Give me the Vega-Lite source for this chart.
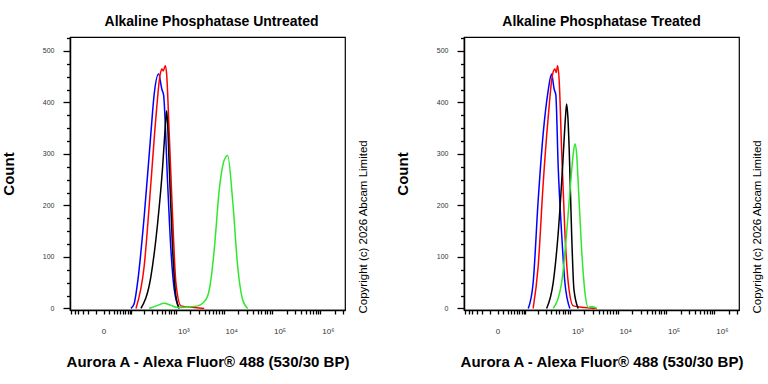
{
  "$schema": "https://vega.github.io/schema/vega-lite/v6.json",
  "padding": {"left": 0, "top": 14, "right": 0, "bottom": 0},
  "background": "white",
  "config": {
    "view": {"stroke": "#000", "strokeWidth": 1.2},
    "font": "Liberation Sans",
    "title": {"font": "Liberation Sans", "fontSize": 14, "fontWeight": "bold", "color": "#000", "frame": "group", "baseline": "alphabetic", "offset": 5},
    "axis": {"domainColor": "#000", "domainWidth": 1.5, "tickColor": "#000", "tickWidth": 1.3, "grid": false, "labelFont": "Liberation Sans", "labelColor": "#333", "titleFont": "Liberation Sans", "titleColor": "#000", "titleFontWeight": "bold"}
  },
  "datasets": {
    "untreated": [
      {"series": "blue", "x": 97, "count": 0}, {"series": "blue", "x": 116, "count": 8}, {"series": "blue", "x": 142, "count": 50}, {"series": "blue", "x": 203, "count": 178}, {"series": "blue", "x": 288, "count": 340}, {"series": "blue", "x": 341, "count": 416}, {"series": "blue", "x": 426, "count": 455}, {"series": "blue", "x": 503, "count": 425}, {"series": "blue", "x": 547, "count": 414}, {"series": "blue", "x": 667, "count": 243}, {"series": "blue", "x": 784, "count": 114}, {"series": "blue", "x": 922, "count": 37}, {"series": "blue", "x": 1177, "count": 0},
      {"series": "red", "x": 130, "count": 0}, {"series": "red", "x": 203, "count": 82}, {"series": "red", "x": 288, "count": 243}, {"series": "red", "x": 372, "count": 371}, {"series": "red", "x": 462, "count": 455}, {"series": "red", "x": 503, "count": 465}, {"series": "red", "x": 537, "count": 461}, {"series": "red", "x": 593, "count": 471}, {"series": "red", "x": 635, "count": 455}, {"series": "red", "x": 722, "count": 339}, {"series": "red", "x": 852, "count": 178}, {"series": "red", "x": 1001, "count": 50}, {"series": "red", "x": 1277, "count": 5}, {"series": "red", "x": 2427, "count": 2}, {"series": "red", "x": 3924, "count": 0},
      {"series": "black", "x": 171, "count": 0}, {"series": "black", "x": 288, "count": 62}, {"series": "black", "x": 405, "count": 165}, {"series": "black", "x": 521, "count": 275}, {"series": "black", "x": 593, "count": 352}, {"series": "black", "x": 635, "count": 384}, {"series": "black", "x": 667, "count": 358}, {"series": "black", "x": 722, "count": 275}, {"series": "black", "x": 852, "count": 114}, {"series": "black", "x": 1001, "count": 24}, {"series": "black", "x": 1177, "count": 0},
      {"series": "green", "x": 264, "count": 0}, {"series": "green", "x": 405, "count": 6}, {"series": "green", "x": 563, "count": 10}, {"series": "green", "x": 784, "count": 6}, {"series": "green", "x": 1088, "count": 2}, {"series": "green", "x": 1767, "count": 3}, {"series": "green", "x": 2859, "count": 5}, {"series": "green", "x": 3636, "count": 10}, {"series": "green", "x": 4622, "count": 24}, {"series": "green", "x": 5410, "count": 56}, {"series": "green", "x": 6335, "count": 114}, {"series": "green", "x": 8050, "count": 230}, {"series": "green", "x": 10220, "count": 288}, {"series": "green", "x": 12030, "count": 297}, {"series": "green", "x": 15260, "count": 210}, {"series": "green", "x": 19390, "count": 82}, {"series": "green", "x": 24610, "count": 17}, {"series": "green", "x": 31240, "count": 0}
    ],
    "treated": [
      {"series": "blue", "x": 118, "count": 0}, {"series": "blue", "x": 155, "count": 50}, {"series": "blue", "x": 203, "count": 210}, {"series": "blue", "x": 264, "count": 340}, {"series": "blue", "x": 341, "count": 423}, {"series": "blue", "x": 405, "count": 455}, {"series": "blue", "x": 462, "count": 425}, {"series": "blue", "x": 500, "count": 415}, {"series": "blue", "x": 563, "count": 275}, {"series": "blue", "x": 667, "count": 146}, {"series": "blue", "x": 784, "count": 50}, {"series": "blue", "x": 1001, "count": 0},
      {"series": "red", "x": 155, "count": 0}, {"series": "red", "x": 203, "count": 82}, {"series": "red", "x": 264, "count": 243}, {"series": "red", "x": 341, "count": 371}, {"series": "red", "x": 426, "count": 455}, {"series": "red", "x": 478, "count": 465}, {"series": "red", "x": 511, "count": 458}, {"series": "red", "x": 547, "count": 471}, {"series": "red", "x": 593, "count": 440}, {"series": "red", "x": 667, "count": 307}, {"series": "red", "x": 784, "count": 146}, {"series": "red", "x": 922, "count": 50}, {"series": "red", "x": 1177, "count": 5}, {"series": "red", "x": 2072, "count": 2}, {"series": "red", "x": 3636, "count": 0},
      {"series": "black", "x": 315, "count": 0}, {"series": "black", "x": 439, "count": 50}, {"series": "black", "x": 563, "count": 146}, {"series": "black", "x": 700, "count": 275}, {"series": "black", "x": 804, "count": 370}, {"series": "black", "x": 852, "count": 397}, {"series": "black", "x": 909, "count": 370}, {"series": "black", "x": 968, "count": 307}, {"series": "black", "x": 1088, "count": 146}, {"series": "black", "x": 1217, "count": 37}, {"series": "black", "x": 1498, "count": 0},
      {"series": "green", "x": 439, "count": 0}, {"series": "green", "x": 667, "count": 50}, {"series": "green", "x": 852, "count": 146}, {"series": "green", "x": 1036, "count": 243}, {"series": "green", "x": 1177, "count": 300}, {"series": "green", "x": 1277, "count": 320}, {"series": "green", "x": 1387, "count": 300}, {"series": "green", "x": 1498, "count": 243}, {"series": "green", "x": 1767, "count": 114}, {"series": "green", "x": 2072, "count": 31}, {"series": "green", "x": 2427, "count": 2}, {"series": "green", "x": 2902, "count": 4}, {"series": "green", "x": 3636, "count": 0}
    ]
  },
  "spacing": 119,
  "bounds": "flush",
  "hconcat": [
    {
      "title": {"text": "Alkaline Phosphatase Untreated", "dx": 4},
      "width": 275, "height": 273,
      "data": {"name": "untreated"},
      "layer": [
        {
          "mark": {"type": "line", "strokeWidth": 1.5, "interpolate": "monotone"},
          "encoding": {
            "x": {"field": "x", "type": "quantitative",
              "scale": {"type": "symlog", "constant": 22.6, "domain": [-55, 3230000], "nice": false, "zero": false},
              "axis": {"title": "Aurora A - Alexa Fluor® 488 (530/30 BP)",
                "values": [-50,-40,-30,-20,-10,0,10,20,30,40,50,60,70,80,90,100,200,300,400,500,600,700,800,900,1000,2000,3000,4000,5000,6000,7000,8000,9000,10000,20000,30000,40000,50000,60000,70000,80000,90000,100000,200000,300000,400000,500000,600000,700000,800000,900000,1000000,2000000,3000000],
                "labelExpr": "datum.value == 0 ? '0' : datum.value == 1000 ? '10³' : datum.value == 10000 ? '10⁴' : datum.value == 100000 ? '10⁵' : datum.value == 1000000 ? '10⁶' : ''",
                "tickSize": 4, "labelFontSize": 8, "labelOffset": 7.5, "labelPadding": 19, "labelBaseline": "alphabetic", "labelOverlap": false, "labelFlush": false,
                "titleFontSize": 15, "titleY": 56.5, "titleBaseline": "alphabetic"}},
            "y": {"field": "count", "type": "quantitative",
              "scale": {"domain": [-3, 527], "nice": false, "zero": false},
              "axis": {"title": "Count",
                "values": [0,25,50,75,100,125,150,175,200,225,250,275,300,325,350,375,400,425,450,475,500,525],
                "labelExpr": "datum.value % 100 == 0 ? datum.label : ''",
                "tickSize": {"condition": {"test": "datum.value % 100 == 0", "value": 7}, "value": 3.5},
                "labelFontSize": 7, "labelPadding": 9, "labelOverlap": false, "labelFlush": false,
                "titleFontSize": 15, "titleX": -62, "titleY": 136.5, "titleBaseline": "middle", "titleAngle": 270}},
            "color": {"field": "series", "type": "nominal",
              "scale": {"domain": ["blue", "red", "black", "green"], "range": ["#0000ff", "#ff0000", "#000000", "#2ee82e"]},
              "legend": null}
          }
        },
        {
          "mark": {"type": "rule", "opacity": 0},
          "encoding": {
            "y": {"field": "count", "type": "quantitative",
              "axis": {"orient": "right", "title": "Copyright (c) 2026 Abcam Limited", "labels": false, "ticks": false, "domain": false,
                "titleX": 18.5, "titleY": 276, "titleAngle": 270, "titleAlign": "left", "titleBaseline": "middle", "titleFontSize": 11.5, "titleFontWeight": "normal"}}
          }
        }
      ],
      "resolve": {"axis": {"y": "independent"}}
    },
    {
      "title": {"text": "Alkaline Phosphatase Treated"},
      "width": 275, "height": 273,
      "data": {"name": "treated"},
      "layer": [
        {
          "mark": {"type": "line", "strokeWidth": 1.5, "interpolate": "monotone"},
          "encoding": {
            "x": {"field": "x", "type": "quantitative",
              "scale": {"type": "symlog", "constant": 22.6, "domain": [-55, 3230000], "nice": false, "zero": false},
              "axis": {"title": "Aurora A - Alexa Fluor® 488 (530/30 BP)",
                "values": [-50,-40,-30,-20,-10,0,10,20,30,40,50,60,70,80,90,100,200,300,400,500,600,700,800,900,1000,2000,3000,4000,5000,6000,7000,8000,9000,10000,20000,30000,40000,50000,60000,70000,80000,90000,100000,200000,300000,400000,500000,600000,700000,800000,900000,1000000,2000000,3000000],
                "labelExpr": "datum.value == 0 ? '0' : datum.value == 1000 ? '10³' : datum.value == 10000 ? '10⁴' : datum.value == 100000 ? '10⁵' : datum.value == 1000000 ? '10⁶' : ''",
                "tickSize": 4, "labelFontSize": 8, "labelOffset": 7.5, "labelPadding": 19, "labelBaseline": "alphabetic", "labelOverlap": false, "labelFlush": false,
                "titleFontSize": 15, "titleY": 56.5, "titleBaseline": "alphabetic"}},
            "y": {"field": "count", "type": "quantitative",
              "scale": {"domain": [-3, 527], "nice": false, "zero": false},
              "axis": {"title": "Count",
                "values": [0,25,50,75,100,125,150,175,200,225,250,275,300,325,350,375,400,425,450,475,500,525],
                "labelExpr": "datum.value % 100 == 0 ? datum.label : ''",
                "tickSize": {"condition": {"test": "datum.value % 100 == 0", "value": 7}, "value": 3.5},
                "labelFontSize": 7, "labelPadding": 9, "labelOverlap": false, "labelFlush": false,
                "titleFontSize": 15, "titleX": -62, "titleY": 136.5, "titleBaseline": "middle", "titleAngle": 270}},
            "color": {"field": "series", "type": "nominal",
              "scale": {"domain": ["blue", "red", "black", "green"], "range": ["#0000ff", "#ff0000", "#000000", "#2ee82e"]},
              "legend": null}
          }
        },
        {
          "mark": {"type": "rule", "opacity": 0},
          "encoding": {
            "y": {"field": "count", "type": "quantitative",
              "axis": {"orient": "right", "title": "Copyright (c) 2026 Abcam Limited", "labels": false, "ticks": false, "domain": false,
                "titleX": 18.5, "titleY": 276, "titleAngle": 270, "titleAlign": "left", "titleBaseline": "middle", "titleFontSize": 11.5, "titleFontWeight": "normal"}}
          }
        }
      ],
      "resolve": {"axis": {"y": "independent"}}
    }
  ]
}
